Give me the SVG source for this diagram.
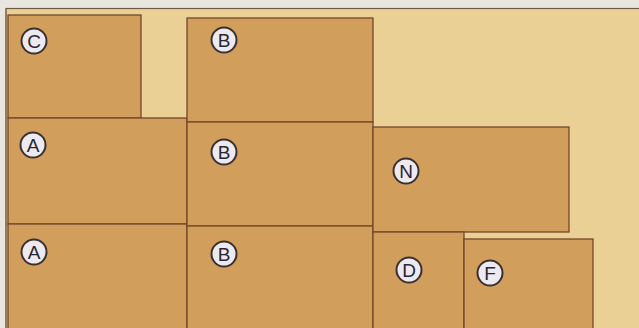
<svg xmlns="http://www.w3.org/2000/svg" width="639" height="328" viewBox="0 0 639 328">
<style>
.piece{fill:#d29e5c;stroke:#74472a;stroke-width:1.3}
.tag circle{fill:#eceaf0;stroke:#3a3030;stroke-width:2}
.tag text{font-family:"Liberation Sans",Arial,sans-serif;font-size:19px;fill:#2a2530;text-anchor:middle;dominant-baseline:central}
</style>
<rect x="0" y="0" width="639" height="328" fill="#e9e6df"/>
<rect id="board" x="6" y="8.5" width="640" height="330" fill="#ebd096" stroke="#6e5a44" stroke-width="1.2"/>
<line x1="6" y1="9" x2="6" y2="328" stroke="#8a6a48" stroke-width="1"/>
<g id="C"><rect class="piece" x="8" y="15" width="133" height="103"/><g class="tag"><circle cx="34" cy="41" r="12.5"/><text x="34" y="41.5">C</text></g></g>
<g id="A1"><rect class="piece" x="8" y="118" width="179" height="106"/><g class="tag"><circle cx="33" cy="145" r="12.5"/><text x="33" y="145.5">A</text></g></g>
<g id="A2"><rect class="piece" x="8" y="224" width="179" height="110"/><g class="tag"><circle cx="34" cy="252" r="12.5"/><text x="34" y="252.5">A</text></g></g>
<g id="B1"><rect class="piece" x="187" y="18" width="186" height="104"/><g class="tag"><circle cx="224" cy="40" r="12.5"/><text x="224" y="40.5">B</text></g></g>
<g id="B2"><rect class="piece" x="187" y="122" width="186" height="104"/><g class="tag"><circle cx="224" cy="152" r="12.5"/><text x="224" y="152.5">B</text></g></g>
<g id="B3"><rect class="piece" x="187" y="226" width="186" height="108"/><g class="tag"><circle cx="224" cy="254" r="12.5"/><text x="224" y="254.5">B</text></g></g>
<g id="N"><rect class="piece" x="373" y="127" width="196" height="105"/><g class="tag"><circle cx="406" cy="171" r="12.5"/><text x="406" y="171.5">N</text></g></g>
<g id="D"><rect class="piece" x="373" y="232" width="91" height="102"/><g class="tag"><circle cx="409" cy="270" r="12.5"/><text x="409" y="270.5">D</text></g></g>
<g id="F"><rect class="piece" x="464" y="239" width="129" height="95"/><g class="tag"><circle cx="490" cy="273" r="12.5"/><text x="490" y="273.5">F</text></g></g>
<g id="connectors"/>
</svg>
